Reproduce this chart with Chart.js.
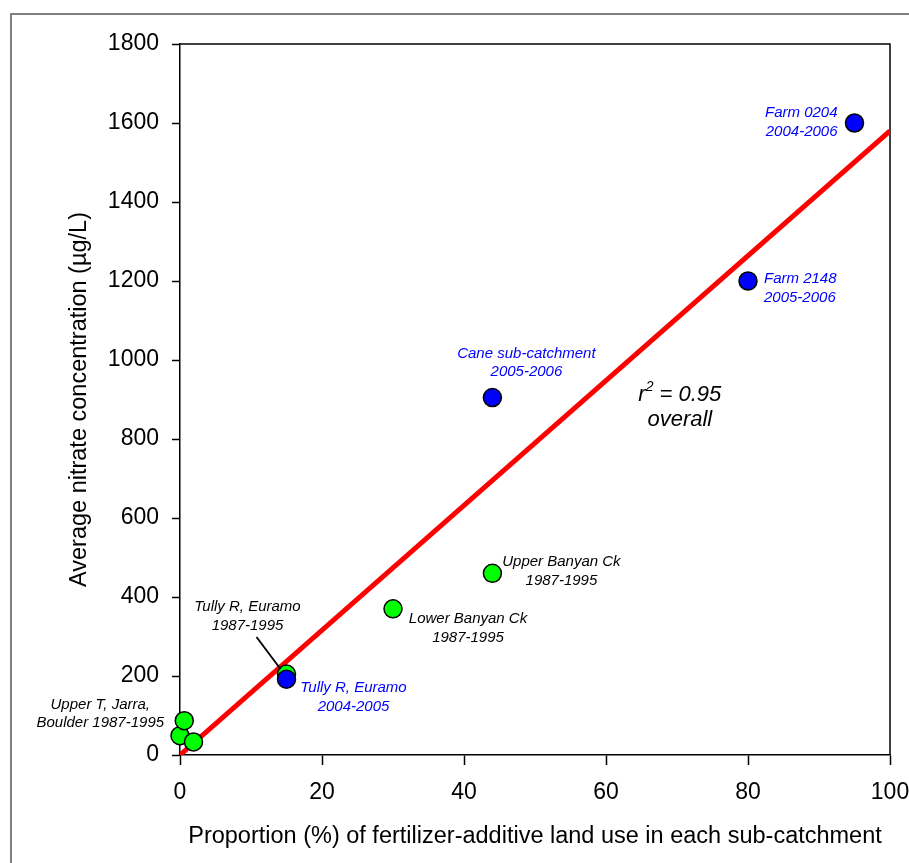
<!DOCTYPE html>
<html>
<head>
<meta charset="utf-8">
<script src="https://cdn.jsdelivr.net/npm/chart.js@4/dist/chart.umd.min.js"></script>
<style>
  html, body { margin: 0; padding: 0; background: #fff; }
  #wrap { width: 909px; height: 863px; }
</style>
</head>
<body>
<div id="wrap"><canvas id="c" width="909" height="863"></canvas></div>
<script>
// 1987-1995 sampling (green markers)
const greenX = [0, 0.6, 1.9, 15, 30, 44];
const greenY = [49, 87, 33, 205, 370, 460];
const greenNotes = ['', 'Upper T, Jarra,\nBoulder 1987-1995', '', 'Tully R, Euramo\n1987-1995', 'Lower Banyan Ck\n1987-1995', 'Upper Banyan Ck\n1987-1995'];

// 2004-2006 sampling (blue markers)
const blueX = [15, 44, 80, 95];
const blueY = [192, 905, 1200, 1600];
const blueNotes = ['Tully R, Euramo\n2004-2005', 'Cane sub-catchment\n2005-2006', 'Farm 2148\n2005-2006', 'Farm 0204\n2004-2006'];

// overall regression line
const fitX = [0, 100];
const fitY = [0, 1580];
const fitNote = ['r', '2', ' = 0.95', 'overall'];

// axes
const xTicks = [0, 20, 40, 60, 80, 100];
const yTicks = [0, 200, 400, 600, 800, 1000, 1200, 1400, 1600, 1800];
const xTitle = 'Proportion (%) of fertilizer-additive land use in each sub-catchment';
const yTitle = 'Average nitrate concentration (\u00B5g/L)';

const FONT = "'Liberation Sans', Arial, sans-serif";
const toPts = (xs, ys) => xs.map((x, i) => ({ x: x, y: ys[i] }));

// outer grey frame and the top/right edges of the plot box
const framePlugin = {
  id: 'frame',
  beforeDraw(chart) {
    const ctx = chart.ctx;
    ctx.save();
    ctx.fillStyle = '#fff';
    ctx.fillRect(0, 0, chart.width, chart.height);
    ctx.strokeStyle = '#808080';
    ctx.lineWidth = 2;
    ctx.beginPath();
    ctx.moveTo(chart.width + 2, 14);
    ctx.lineTo(11, 14);
    ctx.lineTo(11, chart.height + 2);
    ctx.stroke();
    ctx.restore();
  },
  beforeDatasetsDraw(chart) {
    const { ctx, chartArea: a } = chart;
    ctx.save();
    ctx.strokeStyle = '#000';
    ctx.lineWidth = 1.5;
    ctx.beginPath();
    ctx.moveTo(a.left, a.top);
    ctx.lineTo(a.right, a.top);
    ctx.lineTo(a.right, a.bottom);
    ctx.stroke();
    ctx.restore();
  }
};

// point annotations
const notesPlugin = {
  id: 'notes',
  afterDatasetsDraw(chart) {
    const { ctx, scales: { x, y } } = chart;
    // offsets (px) from each marker: [dx, dy of first line, align]
    const greenPlace = [null, [-84, -16, 'center'], null, [-39, -67, 'center'], [75, 10, 'center'], [69, -11, 'center']];
    const bluePlace = [[67, 9, 'center'], [34, -44, 'center'], [16, -2, 'left'], [-17, -10, 'right']];
    const lineGap = 18.5;

    function drawNote(text, px, py, place, color) {
      if (!text || !place) return;
      ctx.fillStyle = color;
      ctx.textAlign = place[2];
      ctx.textBaseline = 'middle';
      text.split('\n').forEach((ln, k) => {
        ctx.fillText(ln, px + place[0], py + place[1] + k * lineGap);
      });
    }

    ctx.save();
    ctx.font = 'italic 15px ' + FONT;
    greenNotes.forEach((t, i) => {
      drawNote(t, x.getPixelForValue(greenX[i]), y.getPixelForValue(greenY[i]), greenPlace[i], '#000');
    });
    blueNotes.forEach((t, i) => {
      drawNote(t, x.getPixelForValue(blueX[i]), y.getPixelForValue(blueY[i]), bluePlace[i], '#0000ff');
    });

    // leader line for the 1987-1995 Tully R label
    const tx = x.getPixelForValue(greenX[3]);
    const ty = y.getPixelForValue(greenY[3]);
    ctx.strokeStyle = '#000';
    ctx.lineWidth = 1.8;
    ctx.beginPath();
    ctx.moveTo(tx - 30, ty - 37);
    ctx.lineTo(tx - 6, ty - 5);
    ctx.stroke();

    // r^2 note beside the regression line
    const cx = x.getPixelForValue(70.4);
    const cy = y.getPixelForValue(912);
    const big = 'italic 22px ' + FONT;
    const small = 'italic 14px ' + FONT;
    ctx.fillStyle = '#000';
    ctx.textBaseline = 'middle';
    ctx.textAlign = 'left';
    ctx.font = big;
    const w1 = ctx.measureText(fitNote[0]).width;
    const w3 = ctx.measureText(fitNote[2]).width;
    ctx.font = small;
    const w2 = ctx.measureText(fitNote[1]).width;
    let sx = cx - (w1 + w2 + w3) / 2;
    ctx.font = big;
    ctx.fillText(fitNote[0], sx, cy);
    ctx.font = small;
    ctx.fillText(fitNote[1], sx + w1, cy - 8);
    ctx.font = big;
    ctx.fillText(fitNote[2], sx + w1 + w2, cy);
    ctx.textAlign = 'center';
    ctx.fillText(fitNote[3], cx, cy + 25);
    ctx.restore();
  }
};

new Chart(document.getElementById('c'), {
  type: 'scatter',
  data: {
    datasets: [
      {
        label: '2004-2006',
        data: toPts(blueX, blueY),
        backgroundColor: '#0000ff',
        borderColor: '#000',
        borderWidth: 1.5,
        pointRadius: 9,
        pointHoverRadius: 9,
        clip: false,
        order: 0
      },
      {
        label: '1987-1995',
        data: toPts(greenX, greenY),
        backgroundColor: '#00ff00',
        borderColor: '#000',
        borderWidth: 1.5,
        pointRadius: 9,
        pointHoverRadius: 9,
        clip: false,
        order: 1
      },
      {
        label: 'Regression',
        type: 'line',
        data: toPts(fitX, fitY),
        borderColor: '#ff0000',
        borderWidth: 5,
        pointRadius: 0,
        showLine: true,
        fill: false,
        order: 2
      }
    ]
  },
  options: {
    responsive: false,
    animation: false,
    events: [],
    layout: { padding: { top: 44, right: 19, left: 0, bottom: 0 } },
    plugins: { legend: { display: false }, tooltip: { enabled: false } },
    scales: {
      x: {
        type: 'linear',
        min: 0,
        max: 100,
        afterBuildTicks: s => { s.ticks = xTicks.map(v => ({ value: v })); },
        afterFit: s => { s.height = 108; s.paddingLeft = 0; s.paddingRight = 0; },
        grid: { drawOnChartArea: false, drawTicks: true, tickLength: 10, tickWidth: 1.5, tickColor: '#000' },
        border: { display: true, color: '#000', width: 1.5 },
        ticks: { color: '#000', font: { family: FONT, size: 23 }, padding: 14, maxRotation: 0, callback: v => String(v) },
        title: { display: true, text: xTitle, color: '#000', font: { family: FONT, size: 23.5 }, padding: { top: 0, bottom: 12 } }
      },
      y: {
        type: 'linear',
        min: 0,
        max: 1800,
        afterBuildTicks: s => { s.ticks = yTicks.map(v => ({ value: v })); },
        afterFit: s => { s.width = 180; s.paddingTop = 0; s.paddingBottom = 0; },
        grid: { drawOnChartArea: false, drawTicks: true, tickLength: 8, tickWidth: 1.5, tickColor: '#000' },
        border: { display: true, color: '#000', width: 1.5 },
        ticks: { color: '#000', font: { family: FONT, size: 23 }, padding: 13, callback: v => String(v) },
        title: { display: true, text: yTitle, color: '#000', font: { family: FONT, size: 23.5 }, padding: { top: 65, bottom: 0 } }
      }
    }
  },
  plugins: [framePlugin, notesPlugin]
});
</script>
</body>
</html>
